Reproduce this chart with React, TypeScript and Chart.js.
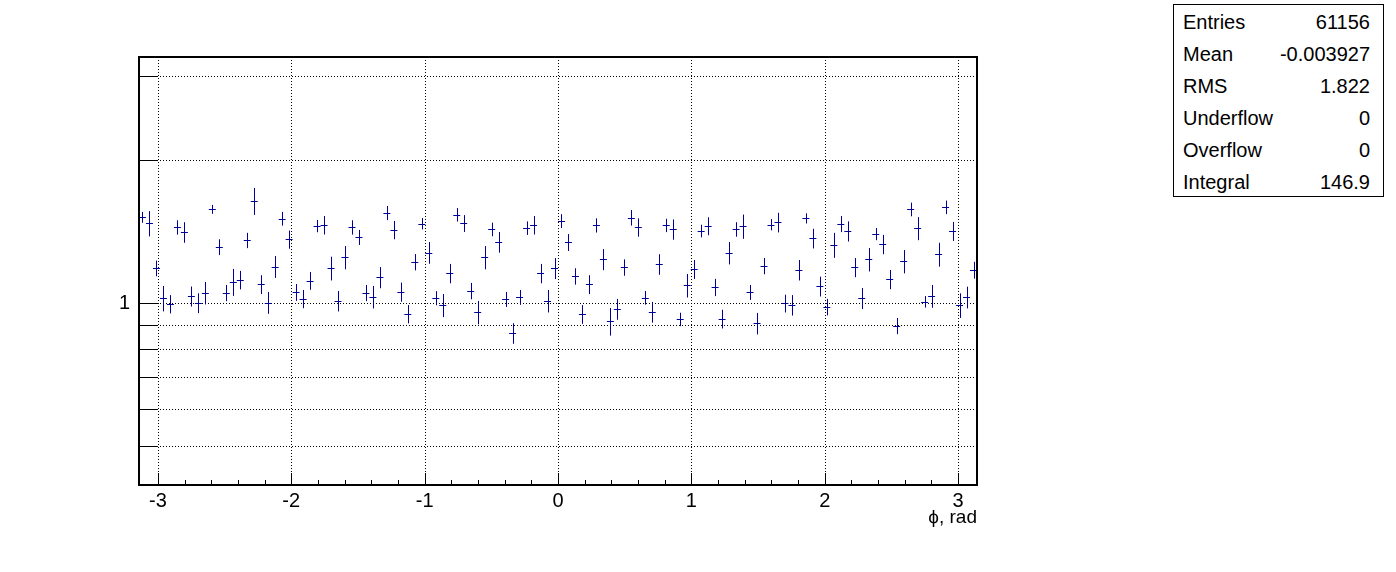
import React, { useEffect, useRef } from 'react';
import { Chart, registerables } from 'chart.js';

Chart.register(...registerables);

const X_MIN = -Math.PI;
const X_MAX = Math.PI;
const Y_MIN = 0.4146;
const Y_MAX = 3.287;

const binValues = [
  1.514, 1.470, 1.183, 1.023, 0.995, 1.442, 1.408, 1.033, 1.000, 1.050,
  1.573, 1.311, 1.050, 1.107, 1.118, 1.354, 1.638, 1.094, 1.002, 1.192,
  1.504, 1.360, 1.053, 1.020, 1.114, 1.451, 1.458, 1.183, 1.010, 1.247,
  1.442, 1.374, 1.050, 1.030, 1.132, 1.546, 1.424, 1.055, 0.948, 1.219,
  1.468, 1.276, 1.024, 0.989, 1.154, 1.533, 1.470, 1.060, 0.956, 1.247,
  1.428, 1.343, 1.018, 0.864, 1.028, 1.437, 1.458, 1.154, 1.010, 1.183,
  1.487, 1.341, 1.138, 0.947, 1.094, 1.456, 1.235, 0.915, 0.971, 1.188,
  1.511, 1.442, 1.026, 0.957, 1.206, 1.456, 1.428, 0.924, 1.089, 1.177,
  1.417, 1.451, 1.079, 0.926, 1.274, 1.428, 1.449, 1.053, 0.906, 1.196,
  1.461, 1.477, 0.998, 0.990, 1.173, 1.506, 1.367, 1.084, 0.981, 1.324,
  1.466, 1.415, 1.188, 1.023, 1.235, 1.396, 1.328, 1.121, 0.895, 1.223,
  1.573, 1.435, 1.006, 1.034, 1.265, 1.589, 1.415, 0.989, 1.028, 1.173,
];

const binErrors = [
  0.040, 0.090, 0.045, 0.063, 0.044, 0.050, 0.070, 0.050, 0.048, 0.057,
  0.034, 0.050, 0.041, 0.072, 0.050, 0.050, 0.107, 0.050, 0.053, 0.063,
  0.050, 0.060, 0.043, 0.045, 0.048, 0.043, 0.065, 0.068, 0.050, 0.070,
  0.050, 0.050, 0.041, 0.056, 0.058, 0.053, 0.063, 0.049, 0.042, 0.048,
  0.040, 0.067, 0.035, 0.055, 0.054, 0.050, 0.060, 0.042, 0.054, 0.070,
  0.047, 0.067, 0.037, 0.043, 0.037, 0.047, 0.065, 0.054, 0.055, 0.060,
  0.050, 0.055, 0.045, 0.043, 0.050, 0.050, 0.063, 0.061, 0.049, 0.047,
  0.057, 0.064, 0.034, 0.048, 0.060, 0.047, 0.070, 0.030, 0.062, 0.054,
  0.043, 0.063, 0.045, 0.042, 0.069, 0.050, 0.085, 0.038, 0.047, 0.047,
  0.040, 0.070, 0.043, 0.049, 0.058, 0.037, 0.065, 0.052, 0.039, 0.080,
  0.057, 0.069, 0.055, 0.052, 0.070, 0.041, 0.062, 0.052, 0.035, 0.069,
  0.052, 0.080, 0.028, 0.057, 0.073, 0.052, 0.065, 0.059, 0.054, 0.048,
];

const xTickValues = [-3, -2, -1, 0, 1, 2, 3];
const yTickValues = [0.5, 0.6, 0.7, 0.8, 0.9, 1, 2, 3];
const yLabelledTicks = [1];
const xAxisTitle = 'ϕ, rad';

const statsLabels = ['Entries', 'Mean', 'RMS', 'Underflow', 'Overflow', 'Integral'];
const statsValues = ['61156', '-0.003927', '1.822', '0', '0', '146.9'];

const FONT = '"Liberation Sans", Arial, Helvetica, sans-serif';
const MARKER_COLOR = '#000099';

const NBINS = binValues.length;
const BIN_W = (X_MAX - X_MIN) / NBINS;

const rootStylePlugin = {
  id: 'rootStyle',
  beforeDatasetsDraw(chart: any) {
    const { ctx, chartArea: a, scales } = chart;
    const x = scales.x;
    const y = scales.y;
    ctx.save();
    ctx.strokeStyle = '#000';
    ctx.lineWidth = 1;
    ctx.setLineDash([1, 2]);
    for (const v of xTickValues) {
      const px = Math.round(x.getPixelForValue(v)) + 0.5;
      ctx.beginPath();
      ctx.moveTo(px, a.top);
      ctx.lineTo(px, a.bottom);
      ctx.stroke();
    }
    for (const v of yTickValues) {
      const py = Math.round(y.getPixelForValue(v)) + 0.5;
      ctx.beginPath();
      ctx.moveTo(a.left, py);
      ctx.lineTo(a.right, py);
      ctx.stroke();
    }
    ctx.restore();
  },
  afterDatasetsDraw(chart: any) {
    const { ctx, chartArea: a, scales } = chart;
    const x = scales.x;
    const y = scales.y;
    ctx.save();
    // error bars / markers
    ctx.strokeStyle = MARKER_COLOR;
    ctx.lineWidth = 1;
    ctx.setLineDash([]);
    const meta = chart.getDatasetMeta(0);
    meta.data.forEach((_pt: any, i: number) => {
      const raw = chart.data.datasets[0].data[i];
      const c = raw.x;
      const v = raw.y;
      const e = binErrors[i];
      const xl = x.getPixelForValue(c - BIN_W / 2);
      const xr = x.getPixelForValue(c + BIN_W / 2);
      const xc = Math.round(x.getPixelForValue(c)) + 0.5;
      const yc = Math.round(y.getPixelForValue(v)) + 0.5;
      const yt = y.getPixelForValue(v + e);
      const yb = y.getPixelForValue(v - e);
      ctx.beginPath();
      ctx.moveTo(Math.max(xl, a.left), yc);
      ctx.lineTo(Math.min(xr, a.right), yc);
      ctx.moveTo(xc, yt);
      ctx.lineTo(xc, yb);
      ctx.stroke();
    });
    // frame
    ctx.strokeStyle = '#000';
    ctx.lineWidth = 2;
    ctx.strokeRect(a.left, a.top, a.right - a.left, a.bottom - a.top);
    // x ticks (inside)
    ctx.lineWidth = 1;
    ctx.beginPath();
    for (let k = -15; k <= 15; k++) {
      const v = k / 5;
      if (v < X_MIN || v > X_MAX) continue;
      const major = k % 5 === 0;
      const px = Math.round(x.getPixelForValue(v)) + 0.5;
      ctx.moveTo(px, a.bottom);
      ctx.lineTo(px, a.bottom - (major ? 12 : 5));
    }
    // y ticks (inside)
    for (const v of yTickValues) {
      const py = Math.round(y.getPixelForValue(v)) + 0.5;
      ctx.moveTo(a.left, py);
      ctx.lineTo(a.left + 18, py);
    }
    ctx.stroke();
    // axis title
    ctx.fillStyle = '#000';
    ctx.font = `19px ${FONT}`;
    ctx.textAlign = 'right';
    ctx.textBaseline = 'middle';
    ctx.fillText(xAxisTitle, a.right, 518);
    ctx.restore();
  },
};

export default function App() {
  const canvasRef = useRef<HTMLCanvasElement | null>(null);

  useEffect(() => {
    if (!canvasRef.current) return;
    const points = binValues.map((v, i) => ({ x: X_MIN + (i + 0.5) * BIN_W, y: v }));
    const chart = new Chart(canvasRef.current, {
      type: 'scatter',
      data: {
        datasets: [
          {
            data: points,
            pointRadius: 0,
            pointHoverRadius: 0,
            showLine: false,
            borderColor: MARKER_COLOR,
            backgroundColor: MARKER_COLOR,
          },
        ],
      },
      options: {
        responsive: false,
        animation: false,
        devicePixelRatio: 1,
        events: [],
        layout: { padding: { left: 0, top: 57, right: 419, bottom: 0 } },
        plugins: {
          legend: { display: false },
          tooltip: { enabled: false },
          title: { display: false },
        },
        scales: {
          x: {
            type: 'linear',
            min: X_MIN,
            max: X_MAX,
            grid: { display: false },
            border: { display: false },
            afterBuildTicks: (s: any) => {
              s.ticks = xTickValues.map((v) => ({ value: v }));
            },
            afterFit: (s: any) => {
              s.height = 87;
            },
            ticks: {
              autoSkip: false,
              maxRotation: 0,
              minRotation: 0,
              padding: -4,
              color: '#000',
              font: { family: FONT, size: 20 },
              callback: (v: any) => String(v),
            },
          },
          y: {
            type: 'logarithmic',
            min: Y_MIN,
            max: Y_MAX,
            grid: { display: false },
            border: { display: false },
            afterBuildTicks: (s: any) => {
              s.ticks = yTickValues.map((v) => ({ value: v }));
            },
            afterFit: (s: any) => {
              s.width = 139;
            },
            ticks: {
              autoSkip: false,
              padding: 1,
              color: '#000',
              font: { family: FONT, size: 20 },
              callback: (v: any) => (yLabelledTicks.includes(Number(v)) ? String(v) : ''),
            },
          },
        },
      },
      plugins: [rootStylePlugin],
    } as any);
    return () => chart.destroy();
  }, []);

  return (
    <div style={{ position: 'absolute', left: 0, top: 0, width: 1396, height: 572, background: '#fff' }}>
      <canvas ref={canvasRef} width={1396} height={572} style={{ display: 'block' }} />
      <div
        style={{
          position: 'absolute',
          left: 1173,
          top: 4,
          width: 211,
          height: 193,
          boxSizing: 'border-box',
          border: '1px solid #000',
          background: '#fff',
          fontFamily: FONT,
          fontSize: 20,
          color: '#000',
          paddingTop: 1,
        }}
      >
        {statsLabels.map((label, i) => (
          <div
            key={label}
            style={{
              display: 'flex',
              justifyContent: 'space-between',
              height: 32,
              lineHeight: '32px',
              paddingLeft: 9,
              paddingRight: 13,
            }}
          >
            <span>{label}</span>
            <span>{statsValues[i]}</span>
          </div>
        ))}
      </div>
    </div>
  );
}
